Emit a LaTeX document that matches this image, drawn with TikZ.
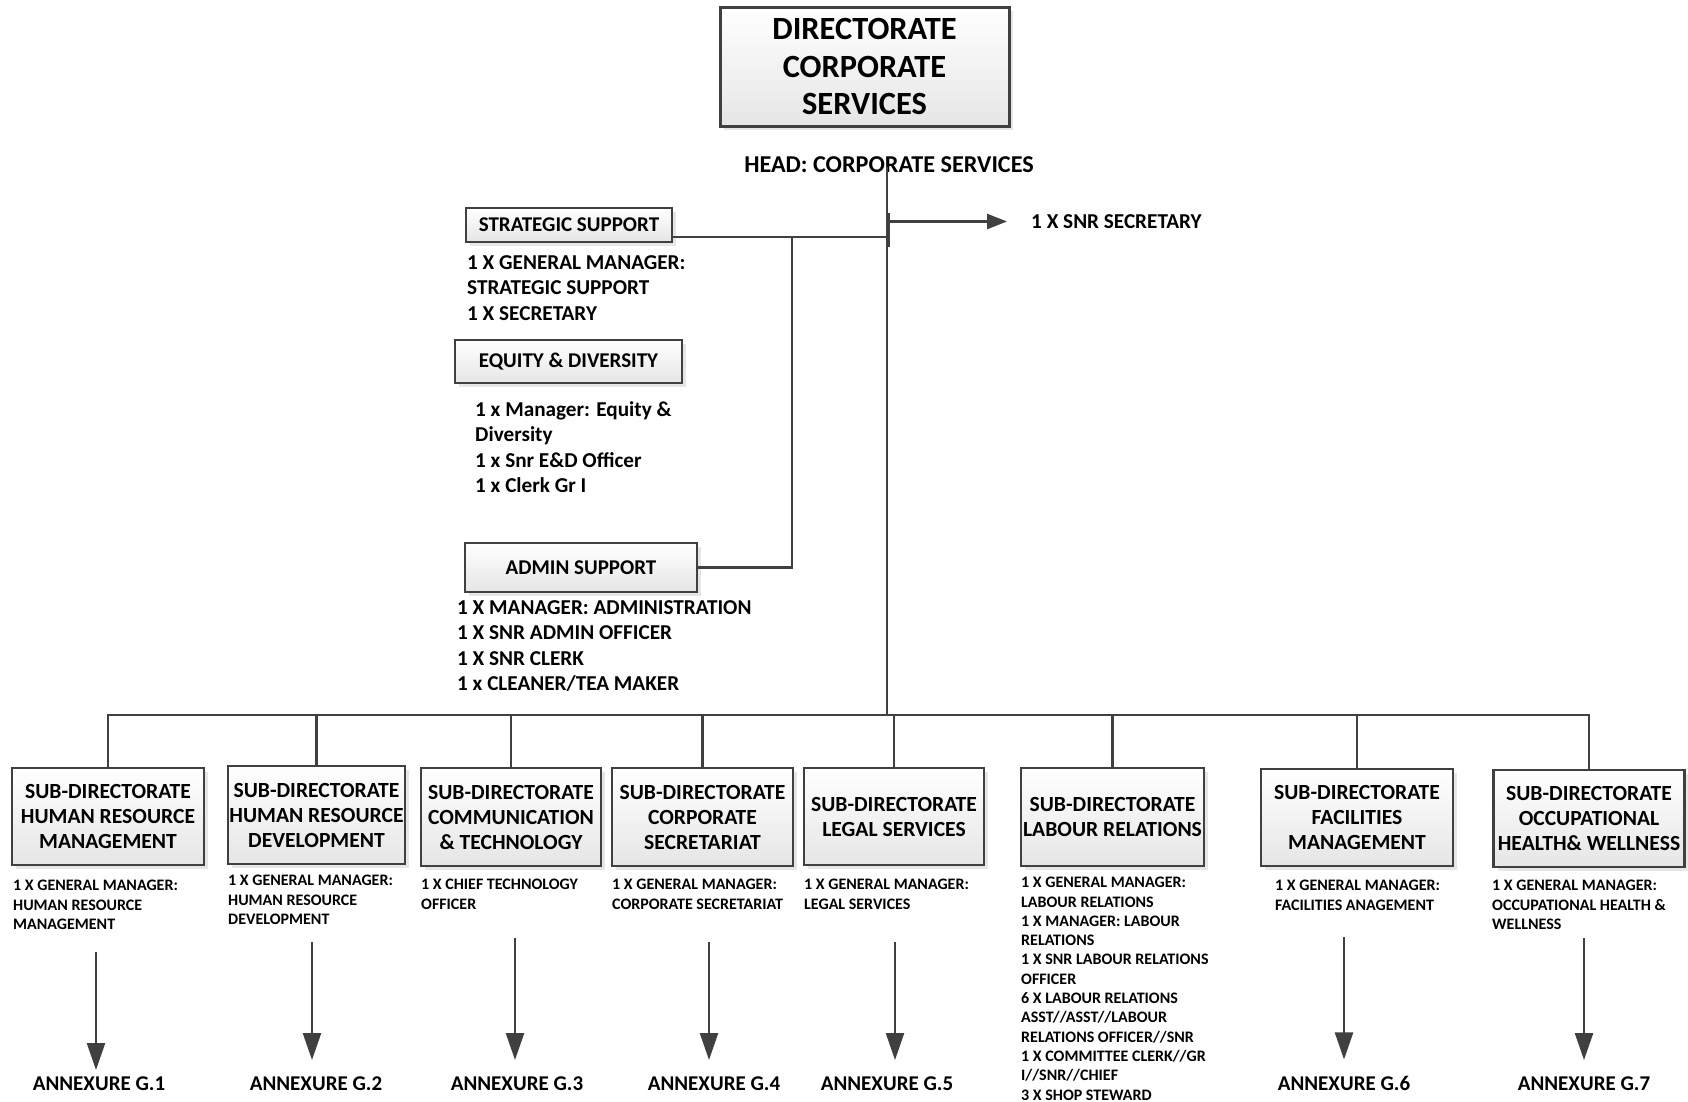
\documentclass[tikz,border=0pt]{standalone}
\usepackage{fontspec}
\setmainfont{Carlito}
\usepackage{xcolor}
\usetikzlibrary{positioning,shadows,arrows.meta}
\definecolor{linegray}{HTML}{404040}
\newcommand*{\fs}[2]{\fontsize{#1}{#2}\selectfont\bfseries}

\begin{document}
\begin{tikzpicture}[x=1pt,y=-1pt,
  box/.style={draw=linegray,line width=2.6pt,top color=white,bottom color=gray!20,
    drop shadow={shadow xshift=4pt,shadow yshift=-4pt,opacity=0.2},
    align=center,inner sep=0pt},
  subbox/.style={box,font=\fs{21.6}{25}},
  smallbox/.style={box,line width=2pt,font=\fs{21}{25}},
  staff/.style={anchor=north west,align=left,inner sep=0pt,font=\fs{21.2}{25.5}},
  substaff/.style={anchor=north west,align=left,inner sep=0pt,font=\fs{16}{19.3}},
  annex/.style={anchor=base,inner xsep=0pt,inner ysep=16pt,font=\fs{21}{25}},
  conn/.style={draw=linegray,line width=2.6pt},
  arr/.style={conn,line width=2.4pt,-{Triangle[length=27pt,width=18pt]}}]
\useasboundingbox (0,0) rectangle (1688,1101);

% head of directorate
\node[box,line width=3pt,minimum width=289pt,minimum height=119pt,font=\fs{32.4}{37.5}] (dcs) at (864.5,66.5) {DIRECTORATE\\CORPORATE\\SERVICES};
\node[inner sep=0pt,font=\fs{24.2}{28}] (head) at (889,165) {HEAD: CORPORATE SERVICES};
\node[anchor=west,inner sep=0pt,font=\fs{21.2}{25}] (snr) at (1031,221.5) {1 X SNR SECRETARY};

% support units
\node[smallbox,minimum width=206pt,minimum height=34pt] (strat) at (569,225) {STRATEGIC SUPPORT};
\node[staff] (stratlist) at (467,255) {1 X GENERAL MANAGER:\\STRATEGIC SUPPORT\\1 X SECRETARY};
\node[smallbox,minimum width=227pt,minimum height=43pt] (equity) at (568.5,361.5) {EQUITY \& DIVERSITY};
\node[staff] (equitylist) at (475,401) {1 x Manager: Equity \&\\Diversity\\1 x Snr E\&D Officer\\1 x Clerk Gr I};
\node[smallbox,minimum width=232pt,minimum height=49pt] (admin) at (581,567.5) {ADMIN SUPPORT};
\node[staff] (adminlist) at (457,600) {1 X MANAGER: ADMINISTRATION\\1 X SNR ADMIN OFFICER\\1 X SNR CLERK\\1 x CLEANER/TEA MAKER};

\coordinate (trunktop) at (887,167);
\coordinate (sjoin) at (887,237);
\coordinate (ajoin) at (792,237);
\coordinate (bus) at (887,715);

\draw[conn] (trunktop) -- (bus);
\draw[conn] (889,213) -- (889,247);
\draw[conn,-{Triangle[length=20pt,width=15pt]}] (889,221.5) -- ([xshift=-24pt]snr.west);
\draw[conn] ([yshift=-12pt]strat.east) -- (sjoin);
\draw[conn] (admin.east) -| (ajoin);

% sub-directorates
\node[subbox,minimum width=192pt,minimum height=97pt] (hrm) at (108,816.5) {SUB-DIRECTORATE\\HUMAN RESOURCE\\MANAGEMENT};
\node[subbox,minimum width=177pt,minimum height=98pt] (hrd) at (316.5,815) {SUB-DIRECTORATE\\HUMAN RESOURCE\\DEVELOPMENT};
\node[subbox,minimum width=180pt,minimum height=98pt] (cmt) at (511,817) {SUB-DIRECTORATE\\COMMUNICATION\\\& TECHNOLOGY};
\node[subbox,minimum width=181pt,minimum height=98pt] (csec) at (702.5,817) {SUB-DIRECTORATE\\CORPORATE\\SECRETARIAT};
\node[subbox,minimum width=180pt,minimum height=97pt] (legal) at (894,816.5) {SUB-DIRECTORATE\\LEGAL SERVICES};
\node[subbox,minimum width=183pt,minimum height=98pt] (labour) at (1112.5,817) {SUB-DIRECTORATE\\LABOUR RELATIONS};
\node[subbox,minimum width=192pt,minimum height=97pt] (fac) at (1357,817.5) {SUB-DIRECTORATE\\FACILITIES\\MANAGEMENT};
\node[subbox,minimum width=191pt,minimum height=97pt] (ohw) at (1589,818.5) {SUB-DIRECTORATE\\OCCUPATIONAL\\HEALTH\& WELLNESS};

\draw[conn] (hrm.north) |- (bus) -| (ohw.north);
\foreach \n in {hrd,cmt,csec,legal,labour,fac}
  \draw[conn] (\n.north) -- (\n.north |- bus);

\node[substaff] (hrmlist) at (13,880) {1 X GENERAL MANAGER:\\HUMAN RESOURCE\\MANAGEMENT};
\node[substaff] (hrdlist) at (228,875) {1 X GENERAL MANAGER:\\HUMAN RESOURCE\\DEVELOPMENT};
\node[substaff] (cmtlist) at (421,879) {1 X CHIEF TECHNOLOGY\\OFFICER};
\node[substaff] (cseclist) at (612,879) {1 X GENERAL MANAGER:\\CORPORATE SECRETARIAT};
\node[substaff] (legallist) at (804,879) {1 X GENERAL MANAGER:\\LEGAL SERVICES};
\node[substaff] (labourlist) at (1021,877) {1 X GENERAL MANAGER:\\LABOUR RELATIONS\\1 X MANAGER: LABOUR\\RELATIONS\\1 X SNR LABOUR RELATIONS\\OFFICER\\6 X LABOUR RELATIONS\\ASST//ASST//LABOUR\\RELATIONS OFFICER//SNR\\1 X COMMITTEE CLERK//GR\\I//SNR//CHIEF\\3 X SHOP STEWARD};
\node[substaff] (faclist) at (1275,880) {1 X GENERAL MANAGER:\\FACILITIES ANAGEMENT};
\node[substaff] (ohwlist) at (1492,880) {1 X GENERAL MANAGER:\\OCCUPATIONAL HEALTH \&\\WELLNESS};

% annexures
\node[annex] (ann1) at (99,1090) {ANNEXURE G.1};
\node[annex] (ann2) at (316,1090) {ANNEXURE G.2};
\node[annex] (ann3) at (517,1090) {ANNEXURE G.3};
\node[annex] (ann4) at (714,1090) {ANNEXURE G.4};
\node[annex] (ann5) at (887,1090) {ANNEXURE G.5};
\node[annex] (ann6) at (1344,1090) {ANNEXURE G.6};
\node[annex] (ann7) at (1584,1090) {ANNEXURE G.7};

\coordinate (a1) at (96,952);
\coordinate (a2) at (312,942);
\coordinate (a3) at (515,938);
\coordinate (a4) at (709,942);
\coordinate (a5) at (895,942);
\coordinate (a6) at (1344,937);
\coordinate (a7) at (1584,938);
\draw[arr,shorten >=-10pt] (a1) -- (a1 |- ann1.north);
\foreach \i in {2,...,7}
  \draw[arr] (a\i) -- (a\i |- ann\i.north);
\end{tikzpicture}
\end{document}
